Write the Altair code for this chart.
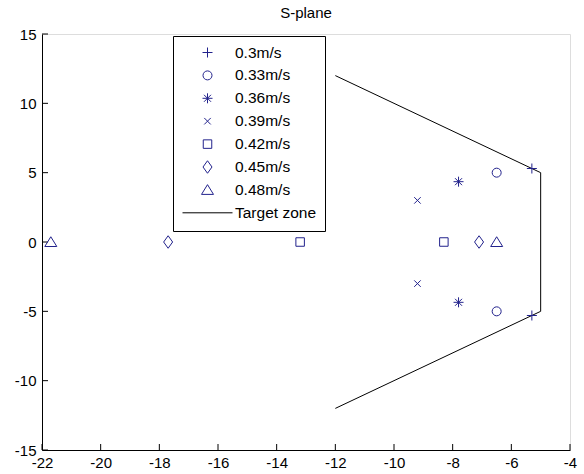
import altair as alt
import pandas as pd

# ---- data ----
speeds = ["0.3m/s", "0.33m/s", "0.36m/s", "0.39m/s", "0.42m/s", "0.45m/s", "0.48m/s"]
pole_re = [[-5.3, -5.3], [-6.5, -6.5], [-7.8, -7.8], [-9.2, -9.2],
           [-8.3, -13.2], [-7.1, -17.7], [-6.5, -21.7]]
pole_im = [[5.3, -5.3], [5.0, -5.0], [4.35, -4.35], [3.0, -3.0],
           [0.0, 0.0], [0.0, 0.0], [0.0, 0.0]]
zone_label = "Target zone"
zone_re = [-12, -5, -5, -12]
zone_im = [12, 5, -5, -12]
x_ticks = [-22, -20, -18, -16, -14, -12, -10, -8, -6, -4]
y_ticks = [-15, -10, -5, 0, 5, 10, 15]

# ---- tables ----
rows = []
for s, rs, ims in zip(speeds, pole_re, pole_im):
    for r, i in zip(rs, ims):
        rows.append({"speed": s, "re": r, "im": i})
poles = pd.DataFrame(rows)
zone = pd.DataFrame({"re": zone_re, "im": zone_im, "k": list(range(len(zone_re)))})
xt = pd.DataFrame({"re": x_ticks})
yt = pd.DataFrame({"im": y_ticks})

FONT = "Liberation Sans"
BLUE = "#22228c"

# marker shapes (unit = half of sqrt(size))
shapes = [
    "M-0.2,0L0.2,0M0,-0.2L0,0.2",                                   # +
    "M0.18,0A0.18,0.18,0,1,1,-0.18,0A0.18,0.18,0,1,1,0.18,0Z",       # o
    "M-0.2,0L0.2,0M0,-0.2L0,0.2M-0.14,-0.14L0.14,0.14M-0.14,0.14L0.14,-0.14",  # *
    "M-0.13,-0.13L0.13,0.13M-0.13,0.13L0.13,-0.13",                   # x
    "M-0.17,-0.17L0.17,-0.17L0.17,0.17L-0.17,0.17Z",                  # square
    "M0,-0.25L0.18,0L0,0.25L-0.18,0Z",                                # diamond
    "M0,-0.21L0.24,0.18L-0.24,0.18Z",                                 # triangle
    "M-1,0L1,0",                                                      # line
]
domain = speeds + [zone_label]
colors = [BLUE] * len(speeds) + ["black"]

xscale = alt.Scale(domain=[-22, -4], nice=False, zero=False)
yscale = alt.Scale(domain=[-15, 15], nice=False, zero=False)

xaxis = alt.Axis(values=x_ticks, title=None, grid=False, ticks=False, tickSize=0,
                 labelPadding=5, labelFlush=False, labelOverlap=False,
                 labelExpr="datum.value + ''", labelFontSize=15, labelFont=FONT,
                 labelColor="black", domainColor="black", domainWidth=1)
yaxis = alt.Axis(values=y_ticks, title=None, grid=False, ticks=False, tickSize=0,
                 labelPadding=6, labelFlush=False, labelOverlap=False,
                 labelExpr="datum.value + ''", labelFontSize=15, labelFont=FONT,
                 labelColor="black", domainColor="black", domainWidth=1)

legend = alt.Legend(
    title=None, orient="none", legendX=131, legendY=2,
    fillColor="white", strokeColor="black", padding=9,
    rowPadding=6.9, labelOffset=2, labelFont=FONT, labelFontSize=15.5,
    labelColor="black", symbolSize=2500, symbolStrokeWidth=1,
    symbolFillColor="transparent", clipHeight=15,
)

points = alt.Chart(poles).mark_point(size=2500, filled=False, strokeWidth=1, opacity=1).encode(
    x=alt.X("re:Q", scale=xscale, axis=xaxis),
    y=alt.Y("im:Q", scale=yscale, axis=yaxis),
    color=alt.Color("speed:N", scale=alt.Scale(domain=domain, range=colors), legend=legend),
    shape=alt.Shape("speed:N", scale=alt.Scale(domain=domain, range=shapes), legend=legend),
)

line = alt.Chart(zone).mark_line(color="black", strokeWidth=1).encode(
    x="re:Q", y="im:Q", order="k:Q"
)

# inward tick marks (MATLAB style)
xticks = alt.Chart(xt).mark_rule(color="black", strokeWidth=1, y2Offset=-6).encode(
    x="re:Q", y=alt.datum(-15), y2=alt.datum(-15)
)
yticks = alt.Chart(yt).mark_rule(color="black", strokeWidth=1, x2Offset=6).encode(
    y="im:Q", x=alt.datum(-22), x2=alt.datum(-22)
)

chart = alt.layer(line, xticks, yticks, points).properties(
    width=528, height=416,
    autosize=alt.AutoSizeParams(type="none"),
    padding={"left": 42, "top": 34, "right": 14, "bottom": 24},
    title=alt.TitleParams("S-plane", fontSize=15, fontWeight="normal", color="black",
                          font=FONT, anchor="middle", offset=6),
).configure_view(stroke=None).configure(background="white")

chart.save("out.html", embed_options={"renderer": "svg", "actions": False})
